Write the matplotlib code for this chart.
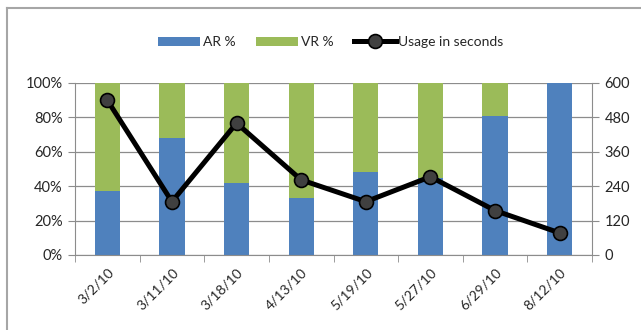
import matplotlib
matplotlib.use("Agg")
import matplotlib.pyplot as plt
from matplotlib.lines import Line2D
import numpy as np

plt.rcParams['font.family'] = ['Lato', 'DejaVu Sans']

dates = ["3/2/10", "3/11/10", "3/18/10", "4/13/10", "5/19/10", "5/27/10", "6/29/10", "8/12/10"]
ar_pct = [37, 68, 42, 33, 48, 45, 81, 100]
vr_pct = [63, 32, 58, 67, 52, 55, 19, 0]
usage_seconds = [540, 186, 460, 262, 186, 273, 155, 77]

blue = "#4F81BD"
green = "#9BBB59"
grid_c = "#8c8c8c"
text_c = "#262626"

fig = plt.figure(figsize=(6.41, 3.30), dpi=100)
ax = fig.add_axes([75/641, 1 - 255/330, (592 - 75)/641, (255 - 83)/330])
ax2 = ax.twinx()

x = np.arange(len(dates))
w = 0.39
ax.bar(x, ar_pct, w, color=blue, label="AR %", zorder=2)
ax.bar(x, vr_pct, w, bottom=ar_pct, color=green, label="VR %", zorder=2)

ax2.plot(x, usage_seconds, color="black", lw=3.6, marker="o", markersize=10,
         markerfacecolor="#404040", markeredgecolor="black", markeredgewidth=1.2,
         label="Usage in seconds", zorder=3)

ax.set_xlim(-0.5, len(dates) - 0.5)
ax.set_ylim(0, 100)
ax2.set_ylim(0, 600)
ax.set_yticks(np.arange(0, 101, 20))
ax.set_yticklabels([f"{v}%" for v in range(0, 101, 20)])
ax2.set_yticks(np.arange(0, 601, 120))

ax.yaxis.grid(True, color=grid_c, lw=0.9, zorder=0)
ax.set_axisbelow(True)

# category labels at the centres, tick marks at the boundaries
ax.set_xticks(x)
ax.set_xticklabels(dates, rotation=45, ha="right", rotation_mode="anchor")
ax.tick_params(axis="x", length=0, pad=8)
ax.set_xticks(np.arange(-0.5, len(dates), 1.0), minor=True)
ax.tick_params(axis="x", which="minor", length=5, color=grid_c, direction="out")

for a in (ax, ax2):
    for s in a.spines.values():
        s.set_visible(False)
    a.tick_params(axis="y", length=5, color=grid_c, labelsize=10.5, labelcolor=text_c, pad=4)
ax.tick_params(axis="x", labelsize=10, labelcolor=text_c)
ax.spines["left"].set_visible(True)
ax.spines["left"].set_color(grid_c)
ax.spines["bottom"].set_visible(True)
ax.spines["bottom"].set_color(grid_c)
ax2.spines["right"].set_visible(True)
ax2.spines["right"].set_color(grid_c)

h1, l1 = ax.get_legend_handles_labels()
h2, l2 = ax2.get_legend_handles_labels()
fig.legend(h1 + h2, l1 + l2, loc="center", bbox_to_anchor=(331/641, 1 - 42/330),
           ncol=3, frameon=False, fontsize=10, handlelength=3.0, handleheight=0.6,
           handletextpad=0.2, columnspacing=1.5, labelcolor=text_c)

# chart area frame
fig.add_artist(Line2D([7/641, 7/641], [0, 1 - 8/330], color="#a6a6a6", lw=1.5,
                      transform=fig.transFigure))
fig.add_artist(Line2D([7/641, 1], [1 - 8/330, 1 - 8/330], color="#a6a6a6", lw=1.5,
                      transform=fig.transFigure))

fig.savefig("out.png", dpi=100)
